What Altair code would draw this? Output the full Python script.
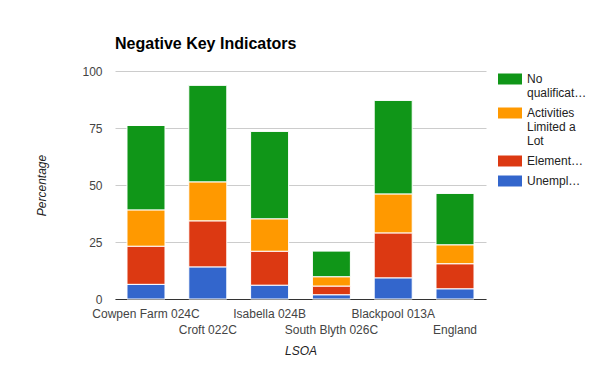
import altair as alt
import pandas as pd

categories = ["Cowpen Farm 024C", "Croft 022C", "Isabella 024B", "South Blyth 026C", "Blackpool 013A", "England"]
series = ["No qualifications", "Activities Limited a Lot", "Elementary Occupations", "Unemployed"]
colors = ["#109618", "#ff9900", "#dc3912", "#3366cc"]
stack_rank = [3, 2, 1, 0]

no_qual = [37.1, 42.4, 38.4, 11.3, 41.1, 22.6]
activities = [15.9, 17.1, 14.2, 4.1, 17.1, 8.3]
elementary = [16.7, 20.2, 14.9, 3.8, 19.7, 11.0]
unemployed = [6.4, 14.0, 6.0, 1.8, 9.2, 4.4]

values = [no_qual, activities, elementary, unemployed]
rows = []
for s, r, vals in zip(series, stack_rank, values):
    for c, v in zip(categories, vals):
        rows.append({"LSOA": c, "Series": s, "rank": r, "Percentage": v})
df = pd.DataFrame(rows)

FONT = "Liberation Sans"

x_label_expr = ("indexof(['Croft 022C','South Blyth 026C','England'], datum.value) >= 0 "
                "? ['', datum.label] : datum.label")
legend_label_expr = ("datum.value == 'No qualifications' ? ['No', 'qualificat\u2026'] : "
                     "datum.value == 'Activities Limited a Lot' ? ['Activities', 'Limited a', 'Lot'] : "
                     "datum.value == 'Elementary Occupations' ? 'Element\u2026' : 'Unempl\u2026'")

chart = alt.Chart(df).mark_bar(stroke="white", strokeWidth=1).encode(
    x=alt.X("LSOA:N", sort=categories,
            scale=alt.Scale(paddingInner=0.385, paddingOuter=0.194),
            axis=alt.Axis(title="LSOA", labelAngle=0, labelAlign="center", labelBaseline="top",
                          labelExpr=x_label_expr, labelOverlap=False, labelLineHeight=16,
                          labelPadding=9, ticks=False, domainColor="#333333",
                          titlePadding=10)),
    y=alt.Y("Percentage:Q", stack="zero",
            scale=alt.Scale(domain=[0, 100], nice=False),
            axis=alt.Axis(title="Percentage", values=[0, 25, 50, 75, 100], ticks=False,
                          domain=False, labelPadding=13, gridColor="#cccccc",
                          titlePadding=33)),
    color=alt.Color("Series:N", sort=series,
                    scale=alt.Scale(domain=series, range=colors),
                    legend=alt.Legend(title=None, orient="none", legendX=383, legendY=-4,
                                      labelExpr=legend_label_expr,
                                      symbolType="M-1,-0.458L1,-0.458L1,0.458L-1,0.458Z",
                                      symbolSize=576, symbolStrokeWidth=0, symbolOpacity=1,
                                      labelOffset=5, rowPadding=2, labelFontSize=12,
                                      labelColor="#222222", labelFont=FONT)),
    order=alt.Order("rank:Q", sort="ascending"),
).properties(
    width=371,
    height=228,
    autosize=alt.AutoSizeParams(type="none"),
    padding={"left": 107, "top": 63, "right": 100, "bottom": 64},
    title=alt.TitleParams("Negative Key Indicators", anchor="start", frame="group",
                          fontSize=16, font=FONT, fontWeight="bold", color="#000000", offset=13),
).configure_axis(
    labelFont=FONT, labelFontSize=12, labelColor="#444444",
    titleFont=FONT, titleFontSize=12, titleFontStyle="italic", titleFontWeight="normal",
    titleColor="#222222",
).configure_view(stroke=None)

chart.save("out.html", embed_options={"renderer": "svg", "actions": False})
